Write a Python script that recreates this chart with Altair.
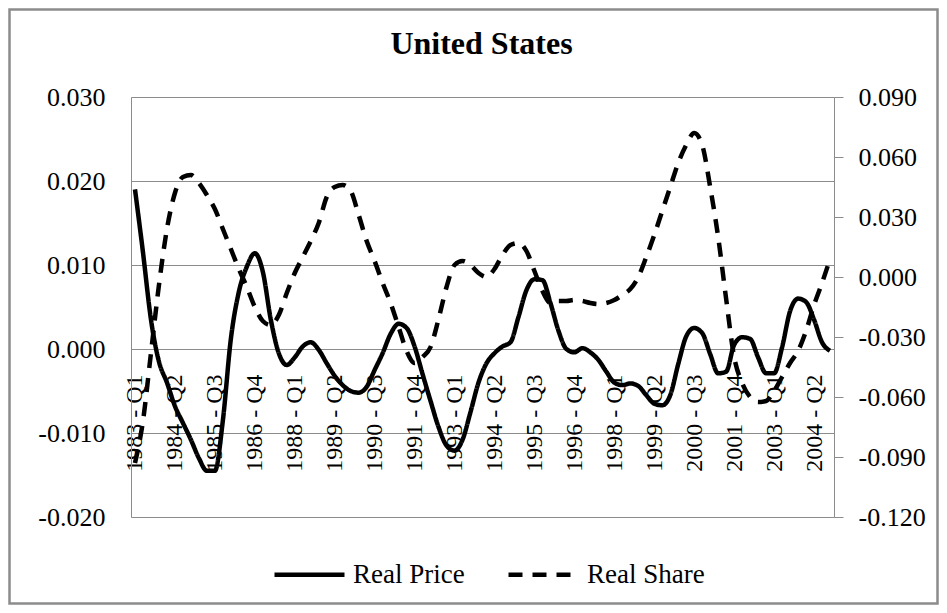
import altair as alt
import pandas as pd

years = list(range(1983, 2005))
quarter_names = ["Q1", "Q2", "Q3", "Q4"]
quarters = [f"{y} - {q}" for y in years for q in quarter_names]

tick_labels = ["1983 - Q1", "1984 - Q2", "1985 - Q3", "1986 - Q4", "1988 - Q1",
               "1989 - Q2", "1990 - Q3", "1991 - Q4", "1993 - Q1", "1994 - Q2",
               "1995 - Q3", "1996 - Q4", "1998 - Q1", "1999 - Q2", "2000 - Q3",
               "2001 - Q4", "2003 - Q1", "2004 - Q2"]

real_price = [
    0.0190, 0.0115, 0.0035, -0.0015, -0.0040, -0.0068, -0.0088, -0.0108, -0.0130, -0.0145,
    -0.0145, -0.0085, 0.0012, 0.0068, 0.0098, 0.0114, 0.0092, 0.0035, -0.0005, -0.0019,
    -0.0010, 0.0003, 0.0008, -0.0001, -0.0017, -0.0032, -0.0043, -0.0050, -0.0052, -0.0045,
    -0.0025, -0.0005, 0.0018, 0.0030, 0.0025, 0.0003, -0.0030, -0.0062, -0.0093, -0.0115,
    -0.0121, -0.0108, -0.0075, -0.0040, -0.0017, -0.0005, 0.0003, 0.0008, 0.0038, 0.0070,
    0.0083, 0.0082, 0.0055, 0.0022, 0.0000, -0.0004, 0.0001, -0.0004, -0.0013, -0.0027,
    -0.0040, -0.0043, -0.0041, -0.0044, -0.0055, -0.0065, -0.0067, -0.0055, -0.0018, 0.0015,
    0.0025, 0.0019, -0.0006, -0.0029, -0.0027, 0.0005, 0.0014, 0.0012, -0.0010, -0.0029,
    -0.0029, 0.0002, 0.0045, 0.0060, 0.0056, 0.0035, 0.0008, -0.0002,
]

real_share = [
    -0.093, -0.072, -0.038, -0.004, 0.024, 0.042, 0.050, 0.051, 0.047, 0.041,
    0.034, 0.024, 0.014, 0.004, -0.005, -0.015, -0.022, -0.024, -0.019, -0.008,
    0.002, 0.010, 0.018, 0.027, 0.040, 0.045, 0.046, 0.043, 0.031, 0.018,
    0.008, -0.003, -0.013, -0.025, -0.037, -0.043, -0.040, -0.035, -0.021, -0.005,
    0.006, 0.008, 0.006, 0.002, 0.000, 0.004, 0.011, 0.016, 0.017, 0.013,
    0.003, -0.007, -0.013, -0.012, -0.012, -0.0115, -0.012, -0.013, -0.0135, -0.013,
    -0.0115, -0.009, -0.006, 0.000, 0.010, 0.021, 0.033, 0.045, 0.057, 0.066,
    0.072, 0.066, 0.045, 0.020, -0.011, -0.040, -0.053, -0.060, -0.0625, -0.062,
    -0.057, -0.050, -0.043, -0.037, -0.027, -0.014, -0.003, 0.009,
]

left_ticks = [-0.02, -0.01, 0.0, 0.01, 0.02, 0.03]
right_ticks = [-0.12, -0.09, -0.06, -0.03, 0.0, 0.03, 0.06, 0.09]
series_names = ["Real Price", "Real Share"]
title_text = "United States"

df = pd.DataFrame({"quarter": quarters, "price": real_price, "share": real_share})

FONT = "'Liberation Serif', 'DejaVu Serif', 'Noto Serif', serif"
GRAY = "#8c8c8c"
W, H = 703, 420
label_expr = "replace(format(datum.value, '.3f'), '\u2212', '-')"

x_enc = alt.X(
    "quarter:O", sort=quarters,
    scale=alt.Scale(type="point", padding=0.5),
    axis=alt.Axis(values=tick_labels, labelAngle=270, offset=-168, ticks=False,
                  domainColor=GRAY, domainWidth=1, labelPadding=25, labelFont=FONT,
                  labelFontSize=24, labelColor="black", title=None, grid=False,
                  labelOverlap=False),
)

dash = alt.StrokeDash(
    "series:N",
    scale=alt.Scale(domain=series_names, range=[[1, 0], [14, 10]]),
    legend=alt.Legend(orient="none", legendX=141, legendY=440, direction="horizontal",
                      title=None, symbolType="stroke", symbolSize=4900,
                      symbolStrokeWidth=4.5, symbolStrokeColor="black",
                      labelFont=FONT, labelFontSize=27, labelColor="black",
                      columnPadding=34, labelOffset=6),
)

border = alt.Chart(alt.Data(values=[{"k": 1}])).mark_rect(
    filled=False, stroke=GRAY, strokeWidth=2.5, clip=False
).encode(x=alt.value(-121.5), x2=alt.value(W + 103.5),
         y=alt.value(-87.5), y2=alt.value(H + 86.5))

title = alt.Chart(alt.Data(values=[{"t": title_text}])).mark_text(
    font=FONT, fontSize=32, fontWeight="bold", color="black",
    align="center", baseline="middle"
).encode(text="t:N", x=alt.value(W / 2 - 1), y=alt.value(-53))

price_line = alt.Chart(df).transform_calculate(series="'Real Price'").mark_line(
    color="black", strokeWidth=4.5, interpolate="monotone"
).encode(
    x=x_enc,
    y=alt.Y("price:Q", scale=alt.Scale(domain=[-0.02, 0.03], nice=False, zero=False),
            axis=alt.Axis(orient="left", values=left_ticks, labelExpr=label_expr,
                          grid=True, gridColor=GRAY, gridWidth=1, ticks=False,
                          domainColor=GRAY, labelPadding=26, title=None,
                          labelFont=FONT, labelFontSize=26, labelColor="black")),
    strokeDash=dash,
)

share_line = alt.Chart(df).transform_calculate(series="'Real Share'").mark_line(
    color="black", strokeWidth=4.5, interpolate="monotone"
).encode(
    x=x_enc,
    y=alt.Y("share:Q", scale=alt.Scale(domain=[-0.12, 0.09], nice=False, zero=False),
            axis=alt.Axis(orient="right", values=right_ticks, labelExpr=label_expr,
                          grid=False, ticks=True, tickSize=9, tickColor=GRAY,
                          domainColor=GRAY, labelPadding=15, title=None,
                          labelFont=FONT, labelFontSize=26, labelColor="black")),
    strokeDash=dash,
)

chart = alt.layer(border, title, price_line, share_line).resolve_scale(
    y="independent"
).properties(
    width=W, height=H,
    autosize=alt.AutoSizeParams(type="none"),
    padding={"left": 123, "top": 89, "right": 105, "bottom": 88},
).configure_view(stroke=None).configure(background="white")

chart.save("out.html", embed_options={"renderer": "svg", "actions": False})
